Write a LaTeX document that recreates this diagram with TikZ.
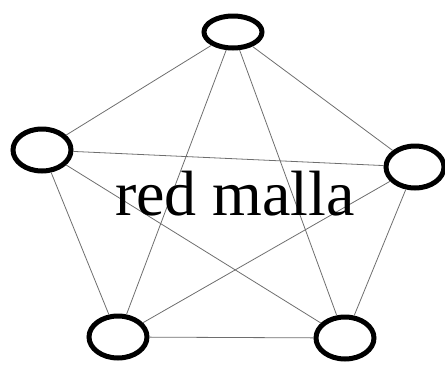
\documentclass[tikz,border=0pt]{standalone}
\usepackage{fontspec}
\setmainfont{Liberation Serif}
\usetikzlibrary{shapes.geometric}
\definecolor{linkgray}{RGB}{110,110,110}

\begin{document}
\begin{tikzpicture}[x=1pt,y=-1pt,
    host/.style={ellipse, draw=black, line width=5pt, fill=white,
      minimum width=58pt, minimum height=42pt, inner sep=0pt},
    link/.style={draw=linkgray, line width=0.8pt}]
        \useasboundingbox (0,0) rectangle (445,367);
        % --- the five hosts
        \node[host, minimum height=32pt] (top) at (233,32) {};
        \node[host] (left) at (42,150) {};
        \node[host] (right) at (415,167) {};
        \node[host] (botleft) at (118,337) {};
        \node[host] (botright) at (345,338) {};
        % --- every host linked with every other one
        \foreach \a/\b in {top/left, top/right, top/botleft, top/botright,
          left/right, left/botleft, left/botright,
          right/botleft, right/botright, botleft/botright}{
          \draw[link] (\a) -- (\b);}
        \node[font=\fontsize{64}{64}\selectfont, anchor=base, inner sep=0pt] (title) at (235,215) {red malla};
      \end{tikzpicture}
\end{document}
